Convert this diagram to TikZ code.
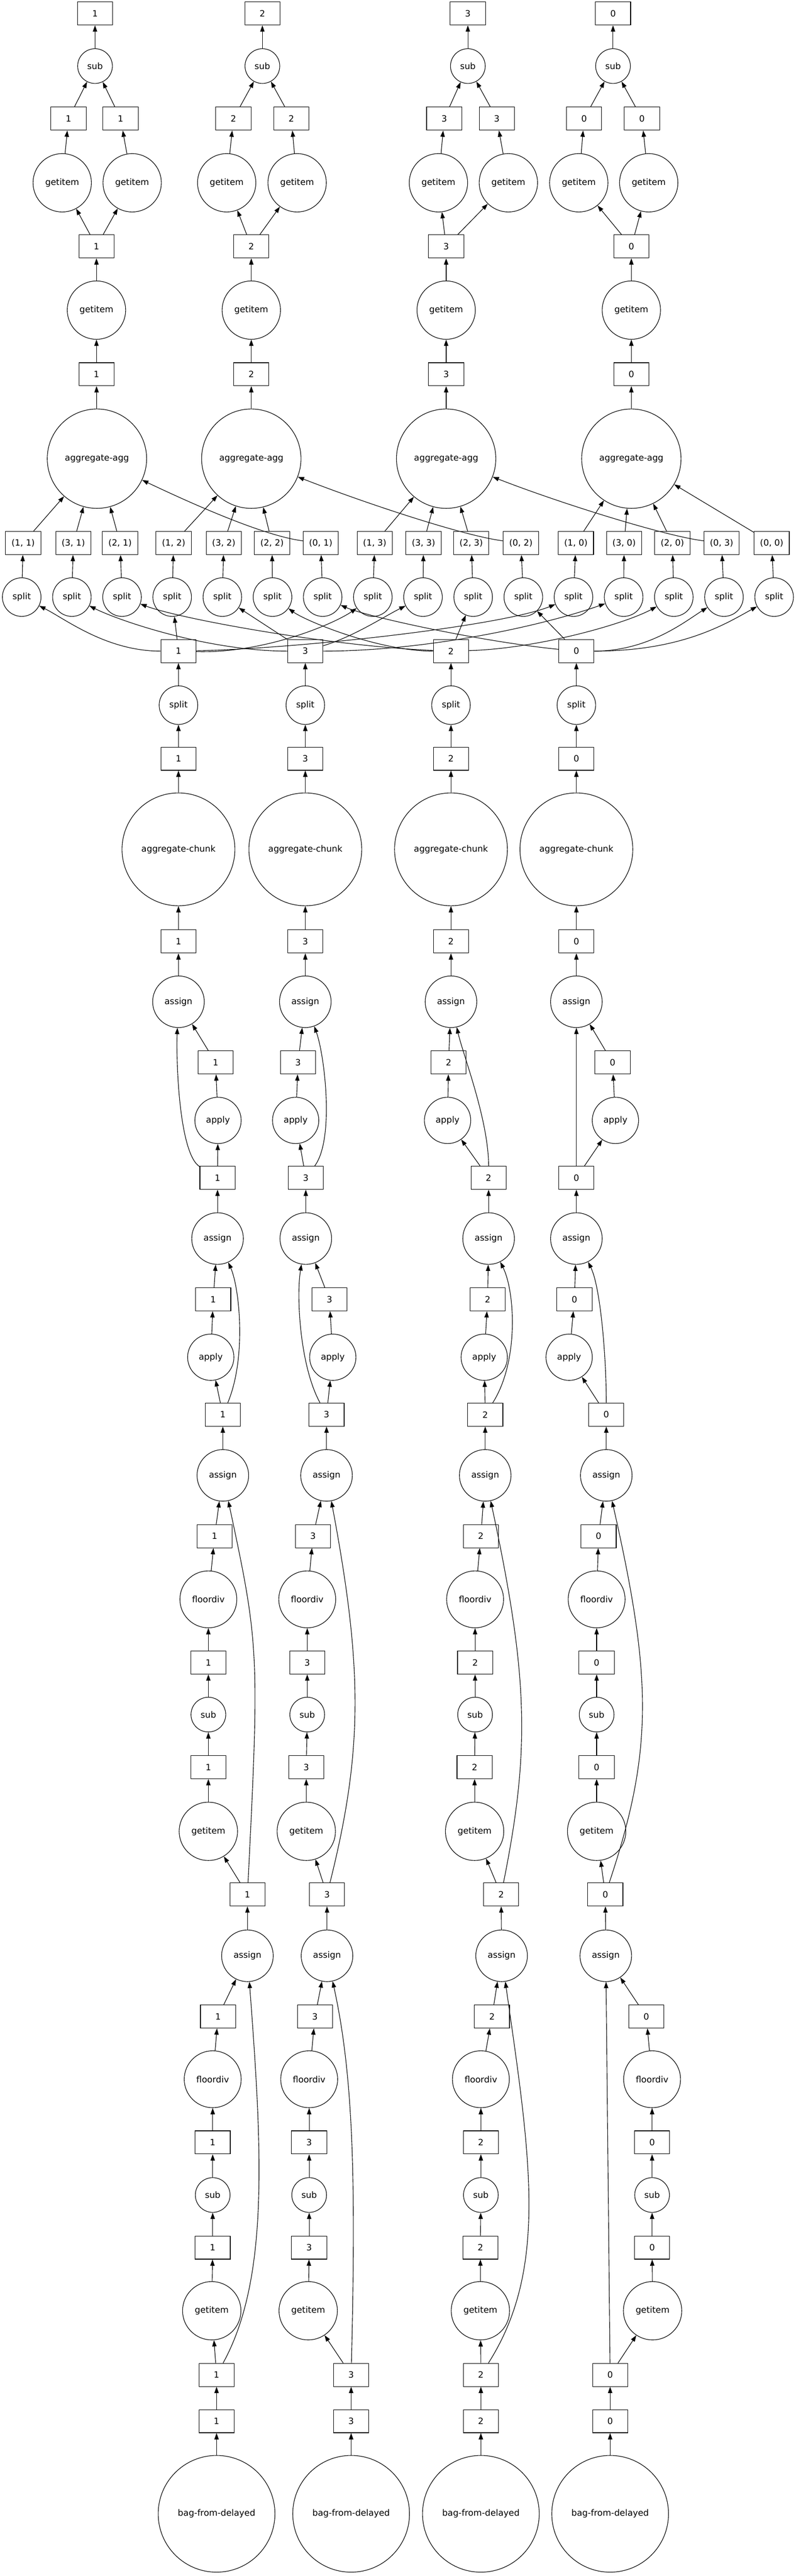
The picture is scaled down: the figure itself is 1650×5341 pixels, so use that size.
\documentclass[tikz,border=0pt]{standalone}
\usepackage{fontspec}
\setmainfont{DejaVu Sans}
\usepackage{tikz}
\usetikzlibrary{arrows.meta}
\tikzstyle{keybox} = [rectangle, minimum width=36.5pt, minimum height=24pt, inner sep=0pt, text centered, draw=black, line width=0.6pt]
\tikzstyle{fn} = [circle, inner sep=0pt, text centered, draw=black, line width=0.6pt]
\tikzstyle{subfn} = [fn, minimum size=36pt]
\tikzstyle{getfn} = [fn, minimum size=60.5pt]
\tikzstyle{aggfn} = [fn, minimum size=103pt]
\tikzstyle{splitfn} = [fn, minimum size=40pt]
\tikzstyle{chunkfn} = [fn, minimum size=117pt]
\tikzstyle{assignfn} = [fn, minimum size=53.5pt]
\tikzstyle{applyfn} = [fn, minimum size=48pt]
\tikzstyle{divfn} = [fn, minimum size=59pt]
\tikzstyle{bagfn} = [fn, minimum size=121pt]
\tikzstyle{arrow} = [line width=0.6pt, ->, >={Triangle[length=6.5pt, width=4.5pt]}]

\begin{document}
\begin{tikzpicture}[x=0.5pt, y=-0.5pt, font=\fontsize{9}{11}\selectfont]
\useasboundingbox (0,0) rectangle (1650,5341);

\node (out1) [keybox] at (197,28) {1};
\node (subC1) [subfn] at (197,137) {sub};
\node (left1) [keybox] at (142,246) {1};
\node (right1) [keybox] at (250,246) {1};
\node (getL1) [getfn] at (129,379) {getitem};
\node (getR1) [getfn] at (274,379) {getitem};
\node (pair1) [keybox] at (200,511) {1};
\node (getC1) [getfn] at (200,643) {getitem};
\node (total1) [keybox] at (200,776) {1};
\node (agg1) [aggfn] at (201,951) {aggregate-agg};

\node (out2) [keybox] at (544,28) {2};
\node (subC2) [subfn] at (544,137) {sub};
\node (left2) [keybox] at (484,246) {2};
\node (right2) [keybox] at (604,246) {2};
\node (getL2) [getfn] at (470,379) {getitem};
\node (getR2) [getfn] at (616,379) {getitem};
\node (pair2) [keybox] at (521,511) {2};
\node (getC2) [getfn] at (521,643) {getitem};
\node (total2) [keybox] at (521,776) {2};
\node (agg2) [aggfn] at (521,951) {aggregate-agg};

\node (out3) [keybox] at (970,28) {3};
\node (subC3) [subfn] at (970,137) {sub};
\node (left3) [keybox] at (921,246) {3};
\node (right3) [keybox] at (1030,246) {3};
\node (getL3) [getfn] at (909,379) {getitem};
\node (getR3) [getfn] at (1054,379) {getitem};
\node (pair3) [keybox] at (925,511) {3};
\node (getC3) [getfn] at (925,643) {getitem};
\node (total3) [keybox] at (925,776) {3};
\node (agg3) [aggfn] at (925,951) {aggregate-agg};

\node (out0) [keybox] at (1271,28) {0};
\node (subC0) [subfn] at (1271,137) {sub};
\node (left0) [keybox] at (1211,246) {0};
\node (right0) [keybox] at (1331,246) {0};
\node (getL0) [getfn] at (1200,379) {getitem};
\node (getR0) [getfn] at (1345,379) {getitem};
\node (pair0) [keybox] at (1309,511) {0};
\node (getC0) [getfn] at (1309,643) {getitem};
\node (total0) [keybox] at (1309,776) {0};
\node (agg0) [aggfn] at (1309,951) {aggregate-agg};

\node (piece11) [keybox] at (48,1126) {(1, 1)};
\node (piece31) [keybox] at (152,1126) {(3, 1)};
\node (piece21) [keybox] at (249,1126) {(2, 1)};
\node (piece12) [keybox] at (360,1126) {(1, 2)};
\node (piece32) [keybox] at (464,1126) {(3, 2)};
\node (piece22) [keybox] at (564,1126) {(2, 2)};
\node (piece01) [keybox] at (665,1126) {(0, 1)};
\node (piece13) [keybox] at (777,1126) {(1, 3)};
\node (piece33) [keybox] at (878,1126) {(3, 3)};
\node (piece23) [keybox] at (977,1126) {(2, 3)};
\node (piece02) [keybox] at (1080,1126) {(0, 2)};
\node (piece10) [keybox] at (1194,1126) {(1, 0)};
\node (piece30) [keybox] at (1294,1126) {(3, 0)};
\node (piece20) [keybox] at (1394,1126) {(2, 0)};
\node (piece03) [keybox] at (1496,1126) {(0, 3)};
\node (piece00) [keybox] at (1600,1126) {(0, 0)};

\node (split11) [splitfn] at (45,1238) {split};
\node (split31) [splitfn] at (149,1238) {split};
\node (split21) [splitfn] at (253,1238) {split};
\node (split12) [splitfn] at (357,1238) {split};
\node (split32) [splitfn] at (461,1238) {split};
\node (split22) [splitfn] at (565,1238) {split};
\node (split01) [splitfn] at (669,1238) {split};
\node (split13) [splitfn] at (773,1238) {split};
\node (split33) [splitfn] at (877,1238) {split};
\node (split23) [splitfn] at (981,1238) {split};
\node (split02) [splitfn] at (1085,1238) {split};
\node (split10) [splitfn] at (1189,1238) {split};
\node (split30) [splitfn] at (1293,1238) {split};
\node (split20) [splitfn] at (1397,1238) {split};
\node (split03) [splitfn] at (1501,1238) {split};
\node (split00) [splitfn] at (1605,1238) {split};

\node (parts1) [keybox] at (370,1350) {1};
\node (splitIn1) [splitfn] at (370,1462) {split};
\node (chunkOut1) [keybox] at (370,1573) {1};
\node (chunk1) [chunkfn] at (370,1761) {aggregate-chunk};
\node (dfD1) [keybox] at (370,1952) {1};
\node (asgD1) [assignfn] at (370,2077) {assign};
\node (resB1) [keybox] at (447,2203) {1};
\node (applyB1) [applyfn] at (452,2323) {apply};
\node (dfC1) [keybox] at (451,2442) {1};
\node (asgC1) [assignfn] at (451,2568) {assign};
\node (resA1) [keybox] at (442,2694) {1};
\node (applyA1) [applyfn] at (437,2814) {apply};
\node (dfB1) [keybox] at (462,2933) {1};
\node (asgB1) [assignfn] at (462,3059) {assign};
\node (quotB1) [keybox] at (445,3185) {1};
\node (divB1) [divfn] at (432,3316) {floordiv};
\node (diffB1) [keybox] at (432,3447) {1};
\node (subB1) [subfn] at (432,3555) {sub};
\node (colB1) [keybox] at (432,3664) {1};
\node (getB1) [getfn] at (432,3797) {getitem};
\node (dfA1) [keybox] at (513,3928) {1};
\node (asgA1) [assignfn] at (513,4055) {assign};
\node (quotA1) [keybox] at (452,4181) {1};
\node (divA1) [divfn] at (441,4311) {floordiv};
\node (diffA1) [keybox] at (441,4442) {1};
\node (subA1) [subfn] at (441,4551) {sub};
\node (colA1) [keybox] at (441,4660) {1};
\node (getA1) [getfn] at (439,4791) {getitem};
\node (df1) [keybox] at (449,4924) {1};
\node (raw1) [keybox] at (449,5020) {1};
\node (bag1) [bagfn] at (449,5212) {bag-from-delayed};

\node (parts3) [keybox] at (633,1350) {3};
\node (splitIn3) [splitfn] at (633,1462) {split};
\node (chunkOut3) [keybox] at (633,1573) {3};
\node (chunk3) [chunkfn] at (633,1761) {aggregate-chunk};
\node (dfD3) [keybox] at (633,1952) {3};
\node (asgD3) [assignfn] at (633,2077) {assign};
\node (resB3) [keybox] at (618,2203) {3};
\node (applyB3) [applyfn] at (613,2323) {apply};
\node (dfC3) [keybox] at (634,2442) {3};
\node (asgC3) [assignfn] at (634,2568) {assign};
\node (resA3) [keybox] at (683,2694) {3};
\node (applyA3) [applyfn] at (690,2814) {apply};
\node (dfB3) [keybox] at (677,2933) {3};
\node (asgB3) [assignfn] at (677,3059) {assign};
\node (quotB3) [keybox] at (649,3185) {3};
\node (divB3) [divfn] at (637,3316) {floordiv};
\node (diffB3) [keybox] at (637,3447) {3};
\node (subB3) [subfn] at (637,3555) {sub};
\node (colB3) [keybox] at (635,3664) {3};
\node (getB3) [getfn] at (635,3797) {getitem};
\node (dfA3) [keybox] at (678,3928) {3};
\node (asgA3) [assignfn] at (678,4055) {assign};
\node (quotA3) [keybox] at (653,4181) {3};
\node (divA3) [divfn] at (641,4311) {floordiv};
\node (diffA3) [keybox] at (641,4442) {3};
\node (subA3) [subfn] at (641,4551) {sub};
\node (colA3) [keybox] at (641,4660) {3};
\node (getA3) [getfn] at (639,4791) {getitem};
\node (df3) [keybox] at (728,4924) {3};
\node (raw3) [keybox] at (728,5020) {3};
\node (bag3) [bagfn] at (728,5212) {bag-from-delayed};

\node (parts2) [keybox] at (935,1350) {2};
\node (splitIn2) [splitfn] at (935,1462) {split};
\node (chunkOut2) [keybox] at (935,1573) {2};
\node (chunk2) [chunkfn] at (935,1761) {aggregate-chunk};
\node (dfD2) [keybox] at (935,1952) {2};
\node (asgD2) [assignfn] at (935,2077) {assign};
\node (resB2) [keybox] at (930,2203) {2};
\node (applyB2) [applyfn] at (928,2323) {apply};
\node (dfC2) [keybox] at (1013,2442) {2};
\node (asgC2) [assignfn] at (1013,2568) {assign};
\node (resA2) [keybox] at (1011,2694) {2};
\node (applyA2) [applyfn] at (1004,2814) {apply};
\node (dfB2) [keybox] at (1006,2933) {2};
\node (asgB2) [assignfn] at (1006,3059) {assign};
\node (quotB2) [keybox] at (997,3185) {2};
\node (divB2) [divfn] at (985,3316) {floordiv};
\node (diffB2) [keybox] at (985,3447) {2};
\node (subB2) [subfn] at (985,3555) {sub};
\node (colB2) [keybox] at (984,3664) {2};
\node (getB2) [getfn] at (984,3797) {getitem};
\node (dfA2) [keybox] at (1039,3928) {2};
\node (asgA2) [assignfn] at (1040,4055) {assign};
\node (quotA2) [keybox] at (1020,4181) {2};
\node (divA2) [divfn] at (997,4311) {floordiv};
\node (diffA2) [keybox] at (997,4442) {2};
\node (subA2) [subfn] at (997,4551) {sub};
\node (colA2) [keybox] at (996,4660) {2};
\node (getA2) [getfn] at (996,4791) {getitem};
\node (df2) [keybox] at (997,4924) {2};
\node (raw2) [keybox] at (997,5020) {2};
\node (bag2) [bagfn] at (997,5212) {bag-from-delayed};

\node (parts0) [keybox] at (1195,1350) {0};
\node (splitIn0) [splitfn] at (1195,1462) {split};
\node (chunkOut0) [keybox] at (1195,1573) {0};
\node (chunk0) [chunkfn] at (1195,1761) {aggregate-chunk};
\node (dfD0) [keybox] at (1195,1952) {0};
\node (asgD0) [assignfn] at (1195,2077) {assign};
\node (resB0) [keybox] at (1270,2203) {0};
\node (applyB0) [applyfn] at (1276,2323) {apply};
\node (dfC0) [keybox] at (1195,2442) {0};
\node (asgC0) [assignfn] at (1195,2568) {assign};
\node (resA0) [keybox] at (1191,2694) {0};
\node (applyA0) [applyfn] at (1180,2814) {apply};
\node (dfB0) [keybox] at (1257,2933) {0};
\node (asgB0) [assignfn] at (1257,3059) {assign};
\node (quotB0) [keybox] at (1241,3185) {0};
\node (divB0) [divfn] at (1237,3316) {floordiv};
\node (diffB0) [keybox] at (1237,3447) {0};
\node (subB0) [subfn] at (1237,3555) {sub};
\node (colB0) [keybox] at (1237,3664) {0};
\node (getB0) [getfn] at (1237,3797) {getitem};
\node (dfA0) [keybox] at (1255,3928) {0};
\node (asgA0) [assignfn] at (1256,4055) {assign};
\node (quotA0) [keybox] at (1340,4181) {0};
\node (divA0) [divfn] at (1352,4311) {floordiv};
\node (diffA0) [keybox] at (1352,4442) {0};
\node (subA0) [subfn] at (1352,4551) {sub};
\node (colA0) [keybox] at (1352,4660) {0};
\node (getA0) [getfn] at (1353,4791) {getitem};
\node (df0) [keybox] at (1265,4924) {0};
\node (raw0) [keybox] at (1265,5020) {0};
\node (bag0) [bagfn] at (1265,5212) {bag-from-delayed};

\draw [arrow] (subC1) -- (out1);
\draw [arrow] (left1) -- (subC1);
\draw [arrow] (right1) -- (subC1);
\draw [arrow] (getL1) -- (left1);
\draw [arrow] (getR1) -- (right1);
\draw [arrow] (pair1) -- (getL1);
\draw [arrow] (pair1) -- (getR1);
\draw [arrow] (getC1) -- (pair1);
\draw [arrow] (total1) -- (getC1);
\draw [arrow] (agg1) -- (total1);

\draw [arrow] (subC2) -- (out2);
\draw [arrow] (left2) -- (subC2);
\draw [arrow] (right2) -- (subC2);
\draw [arrow] (getL2) -- (left2);
\draw [arrow] (getR2) -- (right2);
\draw [arrow] (pair2) -- (getL2);
\draw [arrow] (pair2) -- (getR2);
\draw [arrow] (getC2) -- (pair2);
\draw [arrow] (total2) -- (getC2);
\draw [arrow] (agg2) -- (total2);

\draw [arrow] (subC3) -- (out3);
\draw [arrow] (left3) -- (subC3);
\draw [arrow] (right3) -- (subC3);
\draw [arrow] (getL3) -- (left3);
\draw [arrow] (getR3) -- (right3);
\draw [arrow] (pair3) -- (getL3);
\draw [arrow] (pair3) -- (getR3);
\draw [arrow] (getC3) -- (pair3);
\draw [arrow] (total3) -- (getC3);
\draw [arrow] (agg3) -- (total3);

\draw [arrow] (subC0) -- (out0);
\draw [arrow] (left0) -- (subC0);
\draw [arrow] (right0) -- (subC0);
\draw [arrow] (getL0) -- (left0);
\draw [arrow] (getR0) -- (right0);
\draw [arrow] (pair0) -- (getL0);
\draw [arrow] (pair0) -- (getR0);
\draw [arrow] (getC0) -- (pair0);
\draw [arrow] (total0) -- (getC0);
\draw [arrow] (agg0) -- (total0);

\draw [arrow] (piece11) -- (agg1);
\draw [arrow] (piece31) -- (agg1);
\draw [arrow] (piece21) -- (agg1);
\draw [arrow] (piece01) .. controls +(-120,-15) and +(190,90) .. (agg1);
\draw [arrow] (piece12) -- (agg2);
\draw [arrow] (piece32) -- (agg2);
\draw [arrow] (piece22) -- (agg2);
\draw [arrow] (piece02) .. controls +(-120,-15) and +(230,90) .. (agg2);
\draw [arrow] (piece13) -- (agg3);
\draw [arrow] (piece33) -- (agg3);
\draw [arrow] (piece23) -- (agg3);
\draw [arrow] (piece03) .. controls +(-120,-15) and +(230,90) .. (agg3);
\draw [arrow] (piece10) -- (agg0);
\draw [arrow] (piece30) -- (agg0);
\draw [arrow] (piece20) -- (agg0);
\draw [arrow] (piece00) -- (agg0);

\draw [arrow] (split11) -- (piece11);
\draw [arrow] (split31) -- (piece31);
\draw [arrow] (split21) -- (piece21);
\draw [arrow] (split12) -- (piece12);
\draw [arrow] (split32) -- (piece32);
\draw [arrow] (split22) -- (piece22);
\draw [arrow] (split01) -- (piece01);
\draw [arrow] (split13) -- (piece13);
\draw [arrow] (split33) -- (piece33);
\draw [arrow] (split23) -- (piece23);
\draw [arrow] (split02) -- (piece02);
\draw [arrow] (split10) -- (piece10);
\draw [arrow] (split30) -- (piece30);
\draw [arrow] (split20) -- (piece20);
\draw [arrow] (split03) -- (piece03);
\draw [arrow] (split00) -- (piece00);

\draw [arrow] (parts1) .. controls +(-150,0) and +(90,45) .. (split11);
\draw [arrow] (parts1) -- (split12);
\draw [arrow] (parts1) .. controls +(180,5) and +(-80,55) .. (split13);
\draw [arrow] (parts1) .. controls +(250,-5) and +(-150,60) .. (split10);
\draw [arrow] (parts3) .. controls +(-200,0) and +(100,50) .. (split31);
\draw [arrow] (parts3) -- (split32);
\draw [arrow] (parts3) .. controls +(100,-30) and +(-80,40) .. (split33);
\draw [arrow] (parts3) .. controls +(250,0) and +(-170,60) .. (split30);
\draw [arrow] (parts2) .. controls +(-250,-10) and +(120,45) .. (split21);
\draw [arrow] (parts2) .. controls +(-150,0) and +(70,50) .. (split22);
\draw [arrow] (parts2) -- (split23);
\draw [arrow] (parts2) .. controls +(180,-5) and +(-100,55) .. (split20);
\draw [arrow] (parts0) .. controls +(-200,-20) and +(90,40) .. (split01);
\draw [arrow] (parts0) -- (split02);
\draw [arrow] (parts0) .. controls +(150,0) and +(-80,50) .. (split03);
\draw [arrow] (parts0) .. controls +(220,0) and +(-100,55) .. (split00);

\draw [arrow] (bag1) -- (raw1);
\draw [arrow] (raw1) -- (df1);
\draw [arrow] (df1) -- (getA1);
\draw [arrow] (df1) .. controls +(110,-200) and +(30,400) .. (asgA1);
\draw [arrow] (getA1) -- (colA1);
\draw [arrow] (colA1) -- (subA1);
\draw [arrow] (subA1) -- (diffA1);
\draw [arrow] (diffA1) -- (divA1);
\draw [arrow] (divA1) -- (quotA1);
\draw [arrow] (quotA1) -- (asgA1);
\draw [arrow] (asgA1) -- (dfA1);
\draw [arrow] (dfA1) -- (getB1);
\draw [arrow] (dfA1) .. controls +(25,-500) and +(75,350) .. (asgB1);
\draw [arrow] (getB1) -- (colB1);
\draw [arrow] (colB1) -- (subB1);
\draw [arrow] (subB1) -- (diffB1);
\draw [arrow] (diffB1) -- (divB1);
\draw [arrow] (divB1) -- (quotB1);
\draw [arrow] (quotB1) -- (asgB1);
\draw [arrow] (asgB1) -- (dfB1);
\draw [arrow] (dfB1) -- (applyA1);
\draw [arrow] (dfB1) .. controls +(50,-120) and +(45,100) .. (asgC1);
\draw [arrow] (applyA1) -- (resA1);
\draw [arrow] (resA1) -- (asgC1);
\draw [arrow] (asgC1) -- (dfC1);
\draw [arrow] (dfC1) -- (applyB1);
\draw [arrow] (dfC1) .. controls +(-80,-50) and +(-5,120) .. (asgD1);
\draw [arrow] (applyB1) -- (resB1);
\draw [arrow] (resB1) -- (asgD1);
\draw [arrow] (asgD1) -- (dfD1);
\draw [arrow] (dfD1) -- (chunk1);
\draw [arrow] (chunk1) -- (chunkOut1);
\draw [arrow] (chunkOut1) -- (splitIn1);
\draw [arrow] (splitIn1) -- (parts1);

\draw [arrow] (bag3) -- (raw3);
\draw [arrow] (raw3) -- (df3);
\draw [arrow] (df3) -- (getA3);
\draw [arrow] (df3) .. controls +(10,-400) and +(55,250) .. (asgA3);
\draw [arrow] (getA3) -- (colA3);
\draw [arrow] (colA3) -- (subA3);
\draw [arrow] (subA3) -- (diffA3);
\draw [arrow] (diffA3) -- (divA3);
\draw [arrow] (divA3) -- (quotA3);
\draw [arrow] (quotA3) -- (asgA3);
\draw [arrow] (asgA3) -- (dfA3);
\draw [arrow] (dfA3) -- (getB3);
\draw [arrow] (dfA3) .. controls +(75,-300) and +(75,400) .. (asgB3);
\draw [arrow] (getB3) -- (colB3);
\draw [arrow] (colB3) -- (subB3);
\draw [arrow] (subB3) -- (diffB3);
\draw [arrow] (diffB3) -- (divB3);
\draw [arrow] (divB3) -- (quotB3);
\draw [arrow] (quotB3) -- (asgB3);
\draw [arrow] (asgB3) -- (dfB3);
\draw [arrow] (dfB3) -- (applyA3);
\draw [arrow] (dfB3) .. controls +(-55,-100) and +(-20,120) .. (asgC3);
\draw [arrow] (applyA3) -- (resA3);
\draw [arrow] (resA3) -- (asgC3);
\draw [arrow] (asgC3) -- (dfC3);
\draw [arrow] (dfC3) -- (applyB3);
\draw [arrow] (dfC3) .. controls +(60,-80) and +(40,110) .. (asgD3);
\draw [arrow] (applyB3) -- (resB3);
\draw [arrow] (resB3) -- (asgD3);
\draw [arrow] (asgD3) -- (dfD3);
\draw [arrow] (dfD3) -- (chunk3);
\draw [arrow] (chunk3) -- (chunkOut3);
\draw [arrow] (chunkOut3) -- (splitIn3);
\draw [arrow] (splitIn3) -- (parts3);

\draw [arrow] (bag2) -- (raw2);
\draw [arrow] (raw2) -- (df2);
\draw [arrow] (df2) -- (getA2);
\draw [arrow] (df2) .. controls +(140,-220) and +(60,420) .. (asgA2);
\draw [arrow] (getA2) -- (colA2);
\draw [arrow] (colA2) -- (subA2);
\draw [arrow] (subA2) -- (diffA2);
\draw [arrow] (diffA2) -- (divA2);
\draw [arrow] (divA2) -- (quotA2);
\draw [arrow] (quotA2) -- (asgA2);
\draw [arrow] (asgA2) -- (dfA2);
\draw [arrow] (dfA2) -- (getB2);
\draw [arrow] (dfA2) .. controls +(60,-300) and +(90,420) .. (asgB2);
\draw [arrow] (getB2) -- (colB2);
\draw [arrow] (colB2) -- (subB2);
\draw [arrow] (subB2) -- (diffB2);
\draw [arrow] (diffB2) -- (divB2);
\draw [arrow] (divB2) -- (quotB2);
\draw [arrow] (quotB2) -- (asgB2);
\draw [arrow] (asgB2) -- (dfB2);
\draw [arrow] (dfB2) -- (applyA2);
\draw [arrow] (dfB2) .. controls +(70,-110) and +(55,110) .. (asgC2);
\draw [arrow] (applyA2) -- (resA2);
\draw [arrow] (resA2) -- (asgC2);
\draw [arrow] (asgC2) -- (dfC2);
\draw [arrow] (dfC2) -- (applyB2);
\draw [arrow] (dfC2) .. controls +(0,-120) and +(25,110) .. (asgD2);
\draw [arrow] (applyB2) -- (resB2);
\draw [arrow] (resB2) -- (asgD2);
\draw [arrow] (asgD2) -- (dfD2);
\draw [arrow] (dfD2) -- (chunk2);
\draw [arrow] (chunk2) -- (chunkOut2);
\draw [arrow] (chunkOut2) -- (splitIn2);
\draw [arrow] (splitIn2) -- (parts2);

\draw [arrow] (bag0) -- (raw0);
\draw [arrow] (raw0) -- (df0);
\draw [arrow] (df0) -- (getA0);
\draw [arrow] (df0) -- (asgA0);
\draw [arrow] (getA0) -- (colA0);
\draw [arrow] (colA0) -- (subA0);
\draw [arrow] (subA0) -- (diffA0);
\draw [arrow] (diffA0) -- (divA0);
\draw [arrow] (divA0) -- (quotA0);
\draw [arrow] (quotA0) -- (asgA0);
\draw [arrow] (asgA0) -- (dfA0);
\draw [arrow] (dfA0) -- (getB0);
\draw [arrow] (dfA0) .. controls +(100,-300) and +(95,420) .. (asgB0);
\draw [arrow] (getB0) -- (colB0);
\draw [arrow] (colB0) -- (subB0);
\draw [arrow] (subB0) -- (diffB0);
\draw [arrow] (diffB0) -- (divB0);
\draw [arrow] (divB0) -- (quotB0);
\draw [arrow] (quotB0) -- (asgB0);
\draw [arrow] (asgB0) -- (dfB0);
\draw [arrow] (dfB0) -- (applyA0);
\draw [arrow] (dfB0) .. controls +(0,-120) and +(50,100) .. (asgC0);
\draw [arrow] (applyA0) -- (resA0);
\draw [arrow] (resA0) -- (asgC0);
\draw [arrow] (asgC0) -- (dfC0);
\draw [arrow] (dfC0) -- (applyB0);
\draw [arrow] (dfC0) -- (asgD0);
\draw [arrow] (applyB0) -- (resB0);
\draw [arrow] (resB0) -- (asgD0);
\draw [arrow] (asgD0) -- (dfD0);
\draw [arrow] (dfD0) -- (chunk0);
\draw [arrow] (chunk0) -- (chunkOut0);
\draw [arrow] (chunkOut0) -- (splitIn0);
\draw [arrow] (splitIn0) -- (parts0);
\end{tikzpicture}
\end{document}
